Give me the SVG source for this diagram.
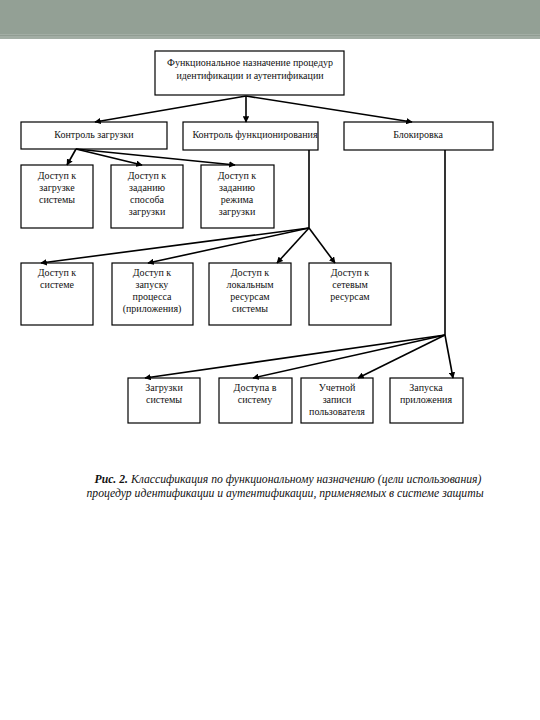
<svg xmlns="http://www.w3.org/2000/svg" width="540" height="720" viewBox="0 0 540 720">
<style>
.box{fill:#fff;stroke:#000;stroke-width:1.2}
.t{font-family:"Liberation Serif",serif;font-size:10px;fill:#111;text-anchor:middle}
.c{stroke:#000;stroke-width:1.6;fill:none}
.cap{font-family:"Liberation Serif",serif;font-size:11.7px;font-style:italic;fill:#111;text-anchor:middle}
</style>
<defs>
<marker id="ah" viewBox="0 0 10 10" refX="9" refY="5" markerWidth="4" markerHeight="4" orient="auto" markerUnits="strokeWidth">
<path d="M0,0 L10,5 L0,10 z" fill="#000"/>
</marker>
</defs>
<rect x="0" y="0" width="540" height="720" fill="#fff"/>
<rect x="0" y="0" width="540" height="34" fill="#93a095"/>
<rect x="0" y="34" width="540" height="5" fill="#a2ada4"/>
<line x1="0" y1="35.5" x2="540" y2="35.5" stroke="#8c988e" stroke-width="0.8"/>

<g id="n0"><rect class="box" x="155" y="51" width="189" height="44"/>
<text class="t" x="250" y="66">Функциональное назначение процедур</text>
<text class="t" x="250" y="79">идентификации и аутентификации</text></g>

<g id="n1"><rect class="box" x="21" y="122" width="146" height="27"/><text class="t" x="94" y="138">Контроль загрузки</text></g>
<g id="n2"><rect class="box" x="183" y="122" width="135" height="28"/><text class="t" x="255" y="138">Контроль функционирования</text></g>
<g id="n3"><rect class="box" x="344" y="122" width="149" height="28"/><text class="t" x="418" y="138">Блокировка</text></g>

<g id="n4"><rect class="box" x="21" y="165" width="72" height="63"/>
<text class="t" x="57" y="179">Доступ к</text><text class="t" x="57" y="191">загрузке</text><text class="t" x="57" y="203">системы</text></g>
<g id="n5"><rect class="box" x="111" y="165" width="72" height="63"/>
<text class="t" x="147" y="179">Доступ к</text><text class="t" x="147" y="191">заданию</text><text class="t" x="147" y="203">способа</text><text class="t" x="147" y="215">загрузки</text></g>
<g id="n6"><rect class="box" x="201" y="165" width="73" height="63"/>
<text class="t" x="237" y="179">Доступ к</text><text class="t" x="237" y="191">заданию</text><text class="t" x="237" y="203">режима</text><text class="t" x="237" y="215">загрузки</text></g>

<g id="n7"><rect class="box" x="21" y="263" width="72" height="62"/>
<text class="t" x="57" y="276">Доступ к</text><text class="t" x="57" y="288">системе</text></g>
<g id="n8"><rect class="box" x="112" y="263" width="81" height="62"/>
<text class="t" x="152" y="276">Доступ к</text><text class="t" x="152" y="288">запуску</text><text class="t" x="152" y="300">процесса</text><text class="t" x="152" y="312">(приложения)</text></g>
<g id="n9"><rect class="box" x="209" y="263" width="82" height="62"/>
<text class="t" x="250" y="276">Доступ к</text><text class="t" x="250" y="288">локальным</text><text class="t" x="250" y="300">ресурсам</text><text class="t" x="250" y="312">системы</text></g>
<g id="n10"><rect class="box" x="309" y="263" width="82" height="62"/>
<text class="t" x="350" y="276">Доступ к</text><text class="t" x="350" y="288">сетевым</text><text class="t" x="350" y="300">ресурсам</text></g>

<g id="n11"><rect class="box" x="128" y="378" width="72" height="45"/>
<text class="t" x="164" y="391">Загрузки</text><text class="t" x="164" y="403">системы</text></g>
<g id="n12"><rect class="box" x="219" y="378" width="73" height="45"/>
<text class="t" x="255" y="391">Доступа в</text><text class="t" x="255" y="403">систему</text></g>
<g id="n13"><rect class="box" x="301" y="378" width="72" height="45"/>
<text class="t" x="337" y="391">Учетной</text><text class="t" x="337" y="403">записи</text><text class="t" x="337" y="415">пользователя</text></g>
<g id="n14"><rect class="box" x="390" y="378" width="73" height="45"/>
<text class="t" x="426" y="391">Запуска</text><text class="t" x="426" y="403">приложения</text></g>

<g id="connectors">
<line class="c" x1="246" y1="96" x2="95" y2="122" marker-end="url(#ah)"/>
<line class="c" x1="246" y1="96" x2="246" y2="122" marker-end="url(#ah)"/>
<line class="c" x1="246" y1="96" x2="412" y2="122" marker-end="url(#ah)"/>
<line class="c" x1="76" y1="149" x2="67" y2="165" marker-end="url(#ah)"/>
<line class="c" x1="76" y1="149" x2="142" y2="165" marker-end="url(#ah)"/>
<line class="c" x1="76" y1="149" x2="235" y2="165" marker-end="url(#ah)"/>
<line class="c" x1="309" y1="150" x2="309" y2="228" stroke-width="1.2"/>
<line class="c" x1="309" y1="228" x2="41" y2="263" marker-end="url(#ah)"/>
<line class="c" x1="309" y1="228" x2="148" y2="263" marker-end="url(#ah)"/>
<line class="c" x1="309" y1="228" x2="277" y2="263" marker-end="url(#ah)"/>
<line class="c" x1="309" y1="228" x2="335" y2="263" marker-end="url(#ah)"/>
<line class="c" x1="445" y1="150" x2="445" y2="335" stroke-width="1.2"/>
<line class="c" x1="445" y1="335" x2="145" y2="378" marker-end="url(#ah)"/>
<line class="c" x1="445" y1="335" x2="253" y2="378" marker-end="url(#ah)"/>
<line class="c" x1="445" y1="335" x2="358" y2="378" marker-end="url(#ah)"/>
<line class="c" x1="445" y1="335" x2="453" y2="378" marker-end="url(#ah)"/>
</g>

<text class="cap" x="288" y="483"><tspan font-weight="bold">Рис. 2.</tspan> Классификация по функциональному назначению (цели использования)</text>
<text class="cap" x="285" y="497">процедур идентификации и аутентификации, применяемых в системе защиты</text>
</svg>
